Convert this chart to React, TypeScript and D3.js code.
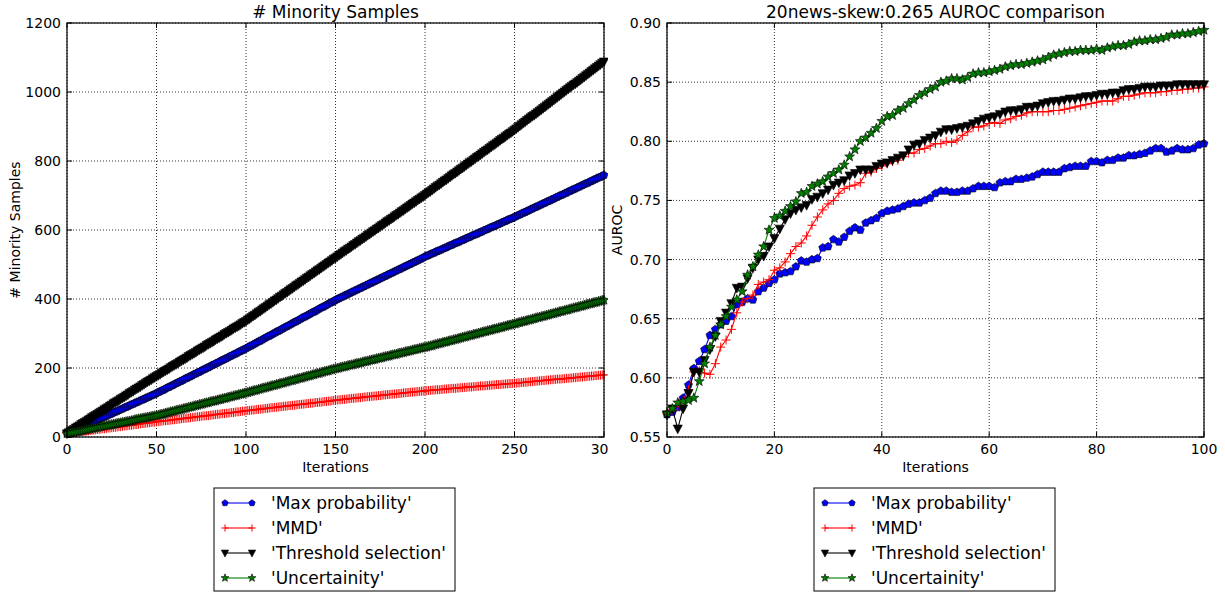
import React from "react";
import * as d3 from "d3";

// ---------- DATA ----------
const seriesNames = ["'Max probability'", "'MMD'", "'Threshold selection'", "'Uncertainity'"];

// Left chart: number of minority samples per iteration (0..300)
const minorityMaxProb = [
  10, 12, 15, 17, 19, 22, 24, 26, 29, 31, 33, 36, 38, 40, 43, 45, 47, 50, 52, 54,
  57, 59, 61, 64, 66, 68, 71, 73, 75, 78, 80, 82, 85, 87, 89, 92, 94, 96, 99, 101,
  103, 106, 108, 110, 113, 115, 117, 120, 122, 124,
  127, 130, 132, 135, 137, 140, 143, 145, 148, 150, 153, 156, 158, 161, 163, 166, 169, 171, 174, 176,
  179, 182, 184, 187, 189, 192, 195, 197, 200, 202, 205, 208, 210, 213, 215, 218, 221, 223, 226, 228,
  231, 234, 236, 239, 241, 244, 247, 249, 252, 254,
  257, 260, 263, 265, 268, 271, 274, 277, 279, 282, 285, 288, 291, 293, 296, 299, 302, 305, 307, 310,
  313, 316, 319, 321, 324, 327, 330, 333, 335, 338, 341, 344, 347, 349, 352, 355, 358, 361, 363, 366,
  369, 372, 375, 377, 380, 383, 386, 389, 391, 394,
  397, 400, 402, 405, 407, 410, 412, 415, 417, 420, 422, 425, 427, 430, 432, 435, 437, 440, 442, 445,
  447, 450, 452, 455, 457, 460, 462, 465, 467, 470, 472, 475, 477, 480, 482, 485, 487, 490, 492, 495,
  497, 500, 502, 505, 507, 510, 512, 515, 517, 520,
  523, 525, 527, 530, 532, 534, 537, 539, 541, 543, 546, 548, 550, 553, 555, 557, 560, 562, 564, 566,
  569, 571, 573, 576, 578, 580, 583, 585, 587, 589, 592, 594, 596, 599, 601, 603, 606, 608, 610, 612,
  615, 617, 619, 622, 624, 626, 629, 631, 633, 635,
  638, 640, 643, 645, 648, 650, 652, 655, 657, 660, 662, 665, 667, 669, 672, 674, 677, 679, 682, 684,
  686, 689, 691, 694, 696, 699, 701, 703, 706, 708, 711, 713, 716, 718, 720, 723, 725, 728, 730, 733,
  735, 737, 740, 742, 745, 747, 750, 752, 754, 757, 759];
const minorityMMD = [
  10, 11, 11, 12, 13, 13, 14, 15, 15, 16, 17, 17, 18, 19, 20, 20, 21, 22, 22, 23,
  24, 24, 25, 26, 26, 27, 28, 28, 29, 30, 30, 31, 32, 32, 33, 34, 34, 35, 36, 36,
  37, 38, 39, 39, 40, 41, 41, 42, 43, 43,
  44, 45, 45, 46, 47, 47, 48, 48, 49, 50, 50, 51, 52, 52, 53, 54, 54, 55, 55, 56,
  57, 57, 58, 59, 59, 60, 61, 61, 62, 62, 63, 64, 64, 65, 66, 66, 67, 68, 68, 69,
  69, 70, 71, 71, 72, 73, 73, 74, 75, 75,
  76, 77, 77, 78, 78, 79, 80, 80, 81, 81, 82, 83, 83, 84, 85, 85, 86, 86, 87, 88,
  88, 89, 89, 90, 91, 91, 92, 92, 93, 94, 94, 95, 95, 96, 97, 97, 98, 98, 99, 100,
  100, 101, 101, 102, 103, 103, 104, 104, 105, 106,
  107, 107, 108, 108, 109, 109, 110, 111, 111, 112, 112, 113, 113, 114, 114, 115, 116, 116, 117, 117,
  118, 118, 119, 119, 120, 120, 121, 122, 122, 123, 123, 124, 124, 125, 125, 126, 126, 127, 128, 128,
  129, 129, 130, 130, 131, 131, 132, 132, 133, 133,
  134, 134, 135, 135, 136, 136, 137, 137, 137, 138, 138, 139, 139, 140, 140, 141, 141, 141, 142, 142,
  143, 143, 144, 144, 145, 145, 145, 146, 146, 147, 147, 148, 148, 148, 149, 149, 150, 150, 151, 151,
  152, 152, 152, 153, 153, 154, 154, 155, 155, 155,
  156, 156, 157, 157, 158, 158, 159, 159, 160, 160, 161, 161, 162, 162, 163, 163, 164, 164, 165, 165,
  166, 166, 167, 167, 168, 168, 168, 169, 169, 170, 170, 171, 171, 172, 172, 173, 173, 174, 174, 175,
  175, 176, 176, 177, 177, 178, 178, 179, 179, 180, 180];
const minorityThreshold = [
  10, 13, 17, 20, 23, 27, 30, 33, 37, 40, 43, 46, 50, 53, 57, 60, 63, 66, 70, 73,
  76, 80, 83, 86, 90, 93, 97, 100, 103, 106, 110, 113, 116, 120, 123, 127, 130, 133, 137, 140,
  143, 146, 150, 153, 157, 160, 163, 166, 170, 173,
  176, 179, 182, 186, 189, 192, 195, 198, 202, 205, 208, 211, 214, 218, 221, 224, 227, 230, 234, 237,
  240, 243, 246, 250, 253, 256, 259, 262, 266, 269, 272, 275, 278, 282, 285, 288, 291, 294, 298, 301,
  304, 307, 310, 314, 317, 320, 323, 326, 330, 333,
  336, 340, 343, 347, 351, 354, 358, 362, 365, 369, 373, 376, 380, 384, 387, 391, 395, 398, 402, 406,
  409, 413, 417, 420, 424, 428, 431, 435, 439, 442, 446, 450, 453, 457, 461, 464, 468, 472, 475, 479,
  483, 486, 490, 494, 497, 501, 505, 508, 512, 516,
  519, 523, 527, 530, 534, 538, 541, 545, 548, 552, 556, 559, 563, 567, 570, 574, 577, 581, 585, 588,
  592, 596, 599, 603, 606, 610, 614, 617, 621, 625, 628, 632, 635, 639, 643, 646, 650, 654, 657, 661,
  665, 668, 672, 676, 679, 683, 687, 690, 694, 697,
  701, 705, 709, 712, 716, 720, 724, 728, 731, 735, 739, 743, 746, 750, 754, 758, 762, 765, 769, 773,
  777, 780, 784, 788, 792, 796, 799, 803, 807, 811, 814, 818, 822, 826, 830, 833, 837, 841, 845, 848,
  852, 856, 860, 864, 867, 871, 875, 879, 882, 886,
  890, 894, 898, 902, 906, 910, 914, 918, 922, 926, 930, 933, 937, 941, 945, 949, 953, 957, 961, 965,
  969, 973, 977, 981, 985, 989, 993, 997, 1001, 1005, 1009, 1013, 1017, 1021, 1024, 1028, 1032, 1036, 1040, 1044,
  1048, 1052, 1056, 1060, 1064, 1068, 1072, 1076, 1080, 1084, 1088];
const minorityUncertainty = [
  10, 11, 12, 13, 14, 15, 16, 17, 18, 19, 20, 21, 22, 23, 25, 26, 27, 28, 29, 30,
  31, 32, 33, 34, 35, 36, 37, 38, 39, 40, 41, 42, 43, 44, 45, 46, 47, 48, 50, 51,
  52, 53, 54, 55, 56, 57, 58, 59, 60, 61,
  62, 63, 65, 66, 67, 69, 70, 71, 73, 74, 75, 77, 78, 79, 80, 82, 83, 84, 86, 87,
  88, 90, 91, 92, 94, 95, 96, 98, 99, 100, 102, 103, 104, 105, 107, 108, 109, 111, 112, 113,
  115, 116, 117, 119, 120, 121, 123, 124, 125, 127,
  128, 129, 131, 132, 134, 135, 136, 138, 139, 141, 142, 143, 145, 146, 148, 149, 150, 152, 153, 155,
  156, 157, 159, 160, 162, 163, 164, 166, 167, 169, 170, 171, 173, 174, 176, 177, 178, 180, 181, 183,
  184, 185, 187, 188, 190, 191, 192, 194, 195, 197,
  198, 199, 200, 202, 203, 204, 205, 207, 208, 209, 210, 212, 213, 214, 215, 217, 218, 219, 220, 222,
  223, 224, 225, 227, 228, 229, 230, 232, 233, 234, 235, 237, 238, 239, 240, 242, 243, 244, 245, 247,
  248, 249, 250, 252, 253, 254, 255, 257, 258, 259,
  260, 261, 263, 264, 265, 267, 268, 270, 271, 272, 274, 275, 276, 278, 279, 280, 282, 283, 284, 286,
  287, 289, 290, 291, 293, 294, 295, 297, 298, 299, 301, 302, 304, 305, 306, 308, 309, 310, 312, 313,
  314, 316, 317, 318, 320, 321, 323, 324, 325, 327,
  328, 329, 331, 332, 334, 335, 336, 338, 339, 340, 342, 343, 345, 346, 347, 349, 350, 351, 353, 354,
  356, 357, 358, 360, 361, 363, 364, 365, 367, 368, 369, 371, 372, 374, 375, 376, 378, 379, 380, 382,
  383, 385, 386, 387, 389, 390, 391, 393, 394, 396, 397];

// Right chart: AUROC for iterations 0..100
const aurocMaxProb = [0.569, 0.571, 0.575, 0.583, 0.594, 0.608, 0.614, 0.624, 0.636, 0.641, 0.645, 0.648, 0.652, 0.662, 0.664, 0.667, 0.666, 0.673, 0.676, 0.680, 0.683, 0.688, 0.689, 0.690, 0.694, 0.699, 0.698, 0.700, 0.701, 0.710, 0.711, 0.717, 0.715, 0.719, 0.724, 0.727, 0.725, 0.731, 0.733, 0.735, 0.739, 0.741, 0.742, 0.743, 0.745, 0.747, 0.748, 0.748, 0.750, 0.752, 0.756, 0.758, 0.758, 0.757, 0.757, 0.758, 0.758, 0.760, 0.762, 0.762, 0.762, 0.761, 0.765, 0.766, 0.766, 0.768, 0.768, 0.769, 0.770, 0.772, 0.774, 0.774, 0.774, 0.774, 0.777, 0.778, 0.779, 0.779, 0.779, 0.783, 0.783, 0.782, 0.784, 0.784, 0.786, 0.786, 0.788, 0.788, 0.789, 0.790, 0.792, 0.794, 0.794, 0.791, 0.792, 0.794, 0.793, 0.793, 0.794, 0.797, 0.798];
const aurocMMD = [0.570, 0.573, 0.576, 0.581, 0.590, 0.605, 0.606, 0.604, 0.603, 0.612, 0.626, 0.632, 0.641, 0.655, 0.664, 0.667, 0.670, 0.679, 0.681, 0.683, 0.691, 0.693, 0.698, 0.705, 0.711, 0.714, 0.720, 0.729, 0.736, 0.742, 0.747, 0.750, 0.756, 0.760, 0.762, 0.763, 0.765, 0.773, 0.774, 0.777, 0.779, 0.781, 0.783, 0.784, 0.787, 0.790, 0.790, 0.793, 0.794, 0.796, 0.798, 0.798, 0.800, 0.799, 0.801, 0.805, 0.808, 0.812, 0.812, 0.813, 0.815, 0.816, 0.815, 0.818, 0.819, 0.821, 0.822, 0.824, 0.825, 0.825, 0.825, 0.825, 0.826, 0.826, 0.827, 0.828, 0.829, 0.830, 0.831, 0.832, 0.833, 0.834, 0.834, 0.834, 0.836, 0.838, 0.838, 0.839, 0.840, 0.841, 0.841, 0.841, 0.842, 0.842, 0.843, 0.843, 0.844, 0.844, 0.845, 0.845, 0.846];
const aurocThreshold = [0.569, 0.574, 0.557, 0.574, 0.587, 0.605, 0.605, 0.615, 0.624, 0.635, 0.648, 0.655, 0.663, 0.676, 0.677, 0.684, 0.693, 0.700, 0.703, 0.711, 0.718, 0.726, 0.734, 0.739, 0.742, 0.744, 0.746, 0.751, 0.753, 0.756, 0.759, 0.763, 0.765, 0.767, 0.771, 0.773, 0.776, 0.776, 0.776, 0.779, 0.781, 0.782, 0.784, 0.786, 0.788, 0.793, 0.797, 0.798, 0.801, 0.803, 0.805, 0.808, 0.810, 0.810, 0.811, 0.812, 0.813, 0.815, 0.817, 0.819, 0.820, 0.821, 0.823, 0.825, 0.826, 0.826, 0.827, 0.829, 0.829, 0.830, 0.832, 0.833, 0.834, 0.834, 0.835, 0.836, 0.836, 0.837, 0.838, 0.838, 0.839, 0.840, 0.840, 0.841, 0.841, 0.843, 0.844, 0.844, 0.845, 0.846, 0.846, 0.846, 0.847, 0.847, 0.847, 0.848, 0.848, 0.848, 0.848, 0.848, 0.848];
const aurocUncertainty = [0.570, 0.574, 0.579, 0.580, 0.581, 0.583, 0.597, 0.612, 0.626, 0.636, 0.645, 0.652, 0.660, 0.666, 0.673, 0.687, 0.694, 0.704, 0.711, 0.725, 0.735, 0.737, 0.741, 0.745, 0.749, 0.756, 0.757, 0.762, 0.764, 0.766, 0.770, 0.773, 0.776, 0.780, 0.787, 0.793, 0.800, 0.803, 0.807, 0.811, 0.817, 0.821, 0.822, 0.826, 0.828, 0.832, 0.835, 0.839, 0.841, 0.844, 0.846, 0.850, 0.851, 0.853, 0.853, 0.852, 0.854, 0.857, 0.858, 0.858, 0.859, 0.860, 0.861, 0.863, 0.864, 0.865, 0.865, 0.866, 0.867, 0.868, 0.869, 0.871, 0.873, 0.874, 0.875, 0.876, 0.876, 0.877, 0.877, 0.877, 0.878, 0.877, 0.879, 0.880, 0.881, 0.881, 0.882, 0.884, 0.885, 0.885, 0.886, 0.886, 0.887, 0.888, 0.890, 0.890, 0.891, 0.891, 0.892, 0.893, 0.894];

const leftXTicks = [0, 50, 100, 150, 200, 250, 300];
const leftYTicks = [0, 200, 400, 600, 800, 1000, 1200];
const rightXTicks = [0, 20, 40, 60, 80, 100];
const rightYTicks = [0.55, 0.6, 0.65, 0.7, 0.75, 0.8, 0.85, 0.9];

// ---------- STYLE ----------
const FONT = "DejaVu Sans, Liberation Sans, sans-serif";
const colors = ["#0000ff", "#ff0000", "#000000", "#007f00"];
const markerKinds = ["pentagon", "plus", "tridown", "star"];

function markerPath(kind: string, r: number): string {
  if (kind === "pentagon") {
    const pts = d3.range(5).map((k) => {
      const a = (-90 + 72 * k) * Math.PI / 180;
      return [r * Math.cos(a), r * Math.sin(a)];
    });
    return "M" + pts.map((p) => p[0].toFixed(2) + "," + p[1].toFixed(2)).join("L") + "Z";
  }
  if (kind === "tridown") {
    return `M${-r},${-r * 0.8}L${r},${-r * 0.8}L0,${r * 1.1}Z`;
  }
  if (kind === "star") {
    const pts = d3.range(10).map((k) => {
      const a = (-90 + 36 * k) * Math.PI / 180;
      const rr = k % 2 === 0 ? r : r * 0.42;
      return [rr * Math.cos(a), rr * Math.sin(a)];
    });
    return "M" + pts.map((p) => p[0].toFixed(2) + "," + p[1].toFixed(2)).join("L") + "Z";
  }
  return `M${-r},0H${r}M0,${-r}V${r}`;
}

function Marker({ kind, color, x, y, r }: { kind: string; color: string; x: number; y: number; r: number }) {
  const d = markerPath(kind, r);
  if (kind === "plus") {
    return <path d={d} transform={`translate(${x},${y})`} stroke={color} strokeWidth={1} fill="none" />;
  }
  return <path d={d} transform={`translate(${x},${y})`} fill={color} stroke="#000" strokeWidth={0.6} />;
}

const markerR = [4.2, 4.5, 4.6, 5.2];

type PanelProps = {
  x0: number; x1: number; y0: number; y1: number;
  xDomain: [number, number]; yDomain: [number, number];
  xTicks: number[]; yTicks: number[]; yFmt: (v: number) => string;
  xs: number[]; series: number[][];
  title: string; ylabel: string; ylabelX: number;
};

function Panel(p: PanelProps) {
  const x = d3.scaleLinear().domain(p.xDomain).range([p.x0, p.x1]);
  const y = d3.scaleLinear().domain(p.yDomain).range([p.y1, p.y0]);
  const line = d3.line<number>().x((_, i) => x(p.xs[i])).y((d) => y(d));
  const tick = 5;
  return (
    <g>
      {p.xTicks.map((t) => (
        <line key={"gx" + t} x1={x(t)} x2={x(t)} y1={p.y0} y2={p.y1} stroke="#333" strokeWidth={1} strokeDasharray="1,2" />
      ))}
      {p.yTicks.map((t) => (
        <line key={"gy" + t} x1={p.x0} x2={p.x1} y1={y(t)} y2={y(t)} stroke="#333" strokeWidth={1} strokeDasharray="1,2" />
      ))}
      {p.series.map((vals, si) => (
        <g key={"s" + si}>
          <path d={line(vals) || ""} fill="none" stroke={colors[si]} strokeWidth={1.1} />
          {vals.map((v, i) => (
            <Marker key={i} kind={markerKinds[si]} color={colors[si]} x={x(p.xs[i])} y={y(v)} r={markerR[si]} />
          ))}
        </g>
      ))}
      <rect x={p.x0} y={p.y0} width={p.x1 - p.x0} height={p.y1 - p.y0} fill="none" stroke="#000" strokeWidth={1.2} />
      {p.xTicks.map((t) => (
        <g key={"tx" + t}>
          <line x1={x(t)} x2={x(t)} y1={p.y1} y2={p.y1 - tick} stroke="#000" />
          <line x1={x(t)} x2={x(t)} y1={p.y0} y2={p.y0 + tick} stroke="#000" />
          <text x={x(t)} y={p.y1 + 17} textAnchor="middle" fontSize={14} fontFamily={FONT} fill="#000">{String(t)}</text>
        </g>
      ))}
      {p.yTicks.map((t) => (
        <g key={"ty" + t}>
          <line x1={p.x0} x2={p.x0 + tick} y1={y(t)} y2={y(t)} stroke="#000" />
          <line x1={p.x1} x2={p.x1 - tick} y1={y(t)} y2={y(t)} stroke="#000" />
          <text x={p.x0 - 6} y={y(t)} dy="0.36em" textAnchor="end" fontSize={14} fontFamily={FONT} fill="#000">{p.yFmt(t)}</text>
        </g>
      ))}
      <text x={(p.x0 + p.x1) / 2} y={p.y1 + 35} textAnchor="middle" fontSize={14} fontFamily={FONT} fill="#000">Iterations</text>
      <text transform={`translate(${p.ylabelX},${(p.y0 + p.y1) / 2}) rotate(-90)`} textAnchor="middle" fontSize={14} fontFamily={FONT} fill="#000">{p.ylabel}</text>
      <text x={(p.x0 + p.x1) / 2} y={18} textAnchor="middle" fontSize={17} fontFamily={FONT} fill="#000">{p.title}</text>
    </g>
  );
}

function Legend({ x, y }: { x: number; y: number }) {
  return (
    <g>
      <rect x={x} y={y} width={241} height={103} fill="#fff" stroke="#000" strokeWidth={1} />
      {seriesNames.map((name, i) => {
        const cy = y + 15 + i * 25;
        return (
          <g key={name}>
            <line x1={x + 11} x2={x + 38} y1={cy} y2={cy} stroke={colors[i]} strokeWidth={1.1} />
            <Marker kind={markerKinds[i]} color={colors[i]} x={x + 11} y={cy} r={markerR[i] * 0.8} />
            <Marker kind={markerKinds[i]} color={colors[i]} x={x + 38} y={cy} r={markerR[i] * 0.8} />
            <text x={x + 57} y={cy} dy="0.36em" fontSize={17} fontFamily={FONT} fill="#000">{name}</text>
          </g>
        );
      })}
    </g>
  );
}

export default function App() {
  const leftXs = minorityMaxProb.map((_, i) => i);
  const rightXs = aurocMaxProb.map((_, i) => i);
  return (
    <svg width={1225} height={594} style={{ position: "absolute", left: 0, top: 0, background: "#fff" }}>
      <rect x={0} y={0} width={1225} height={594} fill="#fff" />
      <defs>
        <clipPath id="leftFig"><rect x={0} y={0} width={608} height={594} /></clipPath>
      </defs>
      <g clipPath="url(#leftFig)">
        <Panel x0={67} x1={604} y0={23} y1={437} xDomain={[0, 300]} yDomain={[0, 1200]}
          xTicks={leftXTicks} yTicks={leftYTicks} yFmt={(v) => String(v)}
          xs={leftXs} series={[minorityMaxProb, minorityMMD, minorityThreshold, minorityUncertainty]}
          title="# Minority Samples" ylabel="# Minority Samples" ylabelX={20} />
        <Legend x={214} y={488} />
      </g>
      <Panel x0={667} x1={1204} y0={23} y1={437} xDomain={[0, 100]} yDomain={[0.55, 0.9]}
        xTicks={rightXTicks} yTicks={rightYTicks} yFmt={(v) => v.toFixed(2)}
        xs={rightXs} series={[aurocMaxProb, aurocMMD, aurocThreshold, aurocUncertainty]}
        title="20news-skew:0.265 AUROC comparison" ylabel="AUROC" ylabelX={622} />
      <Legend x={814} y={488} />
    </svg>
  );
}
